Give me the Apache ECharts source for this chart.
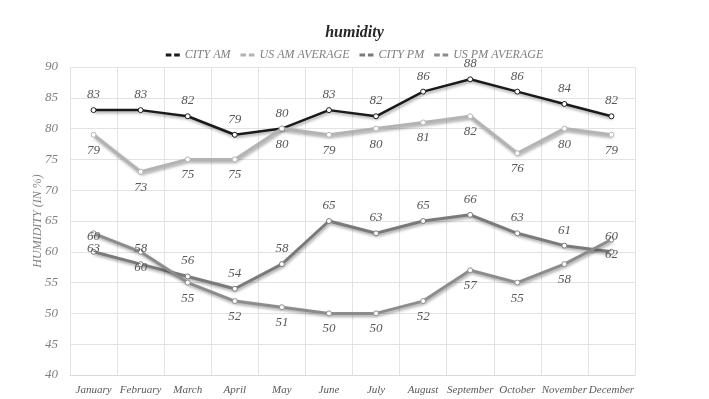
<!DOCTYPE html>
<html>
<head>
<meta charset="utf-8">
<script src="https://cdn.jsdelivr.net/npm/echarts@6/dist/echarts.min.js"></script>
<style>
html, body { margin: 0; padding: 0; background: #fff; }
#chart { width: 709px; height: 399px; }
</style>
</head>
<body>
<div id="chart"></div>
<script>
// data
var months = ['January', 'February', 'March', 'April', 'May', 'June', 'July',
    'August', 'September', 'October', 'November', 'December'];
var cityAm = [83, 83, 82, 79, 80, 83, 82, 86, 88, 86, 84, 82];
var usAmAvg = [79, 73, 75, 75, 80, 79, 80, 81, 82, 76, 80, 79];
var cityPm = [60, 58, 56, 54, 58, 65, 63, 65, 66, 63, 61, 60];
var usPmAvg = [63, 60, 55, 52, 51, 50, 50, 52, 57, 55, 58, 62];

var seriesNames = ['CITY AM', 'US AM AVERAGE', 'CITY PM', 'US PM AVERAGE'];
var seriesColors = ['#1a1a1a', '#b3b3b3', '#7a7a7a', '#8c8c8c'];

var font = 'Liberation Serif';

// one line series, labels above or below
function makeLine(i, data, width, pos) {
    return {
        name: seriesNames[i],
        type: 'line',
        data: data,
        symbol: 'circle',
        symbolSize: 5,
        lineStyle: {
            color: seriesColors[i],
            width: width,
            shadowColor: 'rgba(0,0,0,0.35)',
            shadowBlur: 3,
            shadowOffsetX: 1,
            shadowOffsetY: 2
        },
        itemStyle: {
            color: '#fff',
            borderColor: seriesColors[i],
            borderWidth: 1
        },
        label: {
            show: true,
            position: pos,
            distance: 6,
            fontFamily: font,
            fontStyle: 'italic',
            fontSize: 13,
            color: '#595959'
        }
    };
}

var myChart = echarts.init(document.getElementById('chart'));
myChart.setOption({
    animation: false,
    title: {
        text: 'humidity',
        left: 'center',
        top: 20,
        textStyle: {
            fontFamily: font,
            fontStyle: 'italic',
            fontWeight: 'bold',
            fontSize: 16,
            color: '#262626'
        }
    },
    legend: {
        top: 44,
        left: 'center',
        itemGap: 10,
        itemWidth: 14,
        itemHeight: 3,
        icon: 'path://M0,0H6V3H0z M9,0H15V3H9z',
        textStyle: {
            fontFamily: font,
            fontStyle: 'italic',
            fontSize: 12,
            color: '#7f7f7f'
        },
        data: seriesNames.map(function (n, i) {
            return { name: n, itemStyle: { color: seriesColors[i], borderWidth: 0 } };
        })
    },
    grid: {
        left: 70,
        right: 74,
        top: 67,
        bottom: 24
    },
    xAxis: {
        type: 'category',
        data: months,
        boundaryGap: true,
        axisLine: { lineStyle: { color: '#d9d9d9' } },
        axisTick: { show: false },
        splitLine: { show: true, lineStyle: { color: '#e3e3e3' } },
        axisLabel: {
            interval: 0,
            margin: 10,
            fontFamily: font,
            fontStyle: 'italic',
            fontSize: 11,
            color: '#595959'
        }
    },
    yAxis: {
        type: 'value',
        min: 40,
        max: 90,
        interval: 5,
        name: 'HUMIDITY (IN %)',
        nameLocation: 'middle',
        nameGap: 26,
        nameMoveOverlap: false,
        nameTextStyle: {
            fontFamily: font,
            fontStyle: 'italic',
            fontSize: 12,
            color: '#7f7f7f'
        },
        axisLine: { show: false },
        axisTick: { show: false },
        splitLine: { lineStyle: { color: '#e3e3e3' } },
        axisLabel: {
            margin: 12,
            fontFamily: font,
            fontStyle: 'italic',
            fontSize: 13,
            color: '#7f7f7f'
        }
    },
    series: [
        makeLine(0, cityAm, 2.5, 'top'),
        makeLine(1, usAmAvg, 3, 'bottom'),
        makeLine(2, cityPm, 3, 'top'),
        makeLine(3, usPmAvg, 3, 'bottom')
    ]
});
</script>
</body>
</html>
